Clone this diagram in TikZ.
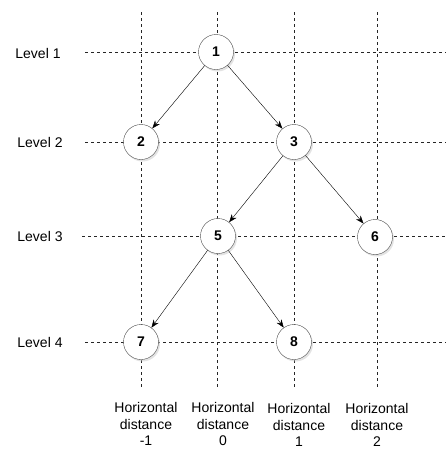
\documentclass[tikz,border=0pt]{standalone}
\usepackage{fontspec}
\setmainfont{Liberation Sans}
\usetikzlibrary{arrows.meta,shadows}

\begin{document}
\begin{tikzpicture}[x=1pt,y=-1pt,
  vertex/.style={circle,draw=black!70,fill=white,minimum size=35pt,inner sep=0pt,
    font=\fontsize{14}{16}\selectfont\bfseries,
    drop shadow={shadow xshift=1.5pt,shadow yshift=-2pt,fill=black!22}},
  gridline/.style={dash pattern=on 3pt off 3pt,black!85},
  edge/.style={-{Stealth[length=8pt,width=6pt]},black},
  lbl/.style={font=\fontsize{14}{16.5}\selectfont,align=center,inner sep=1pt}]
\useasboundingbox (0,0) rectangle (446,451);
% vertical lines (horizontal distance)
\draw[gridline] (141,12) -- (141,388);
\draw[gridline] (217,12) -- (217,388);
\draw[gridline] (294,12) -- (294,388);
\draw[gridline] (377,12) -- (377,388);
% horizontal lines (levels)
\draw[gridline] (85,52) -- (446,52);
\draw[gridline] (85,142) -- (446,142);
\draw[gridline] (82,236) -- (446,236);
\draw[gridline] (85,342) -- (446,342);
% level labels
\node[lbl] (lev1) at (38,53) {Level 1};
\node[lbl] (lev2) at (40,142) {Level 2};
\node[lbl] (lev3) at (40,236) {Level 3};
\node[lbl] (lev4) at (40,342) {Level 4};
% tree
\node[vertex] (n1) at (216,52) {1};
\node[vertex] (n2) at (141,142) {2};
\node[vertex] (n3) at (294,142) {3};
\node[vertex] (n5) at (218,236) {5};
\node[vertex] (n6) at (375,237) {6};
\node[vertex] (n7) at (141,342) {7};
\node[vertex] (n8) at (294,342) {8};
\draw[edge] (n1) -- (n2);
\draw[edge] (n1) -- (n3);
\draw[edge] (n3) -- (n5);
\draw[edge] (n3) -- (n6);
\draw[edge] (n5) -- (n7);
\draw[edge] (n5) -- (n8);
% horizontal distance labels
\node[lbl] (hd1) at (146,424) {Horizontal\\distance\\-1};
\node[lbl] (hd2) at (223,424) {Horizontal\\distance\\0};
\node[lbl] (hd3) at (299,425) {Horizontal\\distance\\1};
\node[lbl] (hd4) at (377,425) {Horizontal\\distance\\2};
\end{tikzpicture}
\end{document}
